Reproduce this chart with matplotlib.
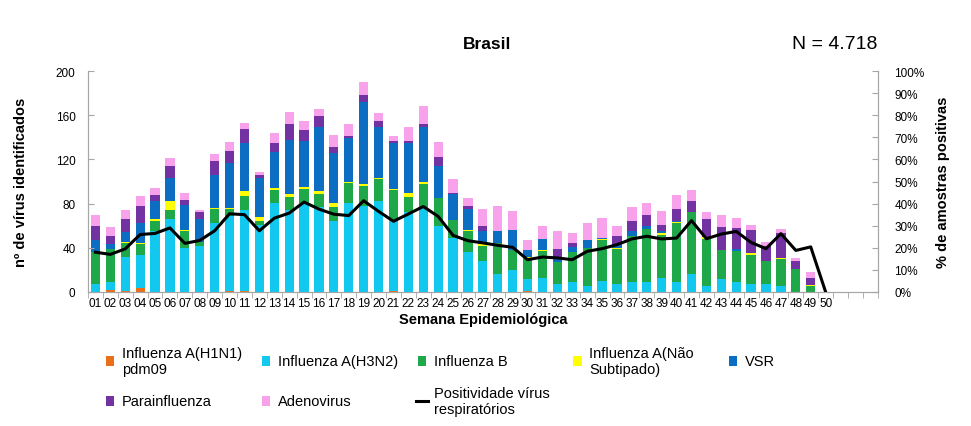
import numpy as np
import matplotlib as mpl
import matplotlib.pyplot as plt
from matplotlib.patches import Rectangle
from matplotlib.lines import Line2D

mpl.rcParams.update({
    "font.family": ["Liberation Sans", "DejaVu Sans"],
    "figure.dpi": 100,
})

weeks = ["%02d" % w for w in range(1, 51)]
n_slots = 53  # axis runs to week 53, labels stop at 50

h1n1 = [0, 2, 1, 4, 0, 0, 0, 0, 0, 1, 1, 0, 0, 0, 0, 0, 0, 0, 0, 0, 1, 0, 0, 0, 0,
        0, 0, 0, 0, 1, 0, 0, 0, 0, 0, 0, 0, 0, 0, 0, 0, 0, 0, 0, 0, 0, 0, 0, 0, 0]
h3n2 = [7, 7, 31, 29, 55, 66, 40, 42, 62, 68, 73, 61, 81, 74, 81, 77, 64, 81, 78, 82, 65, 72, 77, 60, 49,
        36, 28, 16, 20, 11, 13, 7, 9, 5, 10, 7, 9, 9, 13, 9, 16, 5, 12, 9, 7, 7, 5, 0, 0, 0]
flu_b = [29, 30, 12, 10, 9, 8, 15, 3, 13, 6, 13, 3, 11, 12, 12, 12, 13, 18, 18, 20, 26, 14, 21, 25, 16,
         19, 14, 28, 18, 19, 24, 20, 27, 35, 37, 32, 42, 48, 39, 53, 56, 43, 26, 28, 26, 21, 25, 21, 5, 0]
nao_sub = [0, 0, 1, 1, 2, 8, 1, 0, 1, 1, 4, 4, 2, 3, 2, 2, 4, 1, 2, 1, 1, 4, 2, 0, 0,
           1, 1, 0, 0, 1, 1, 0, 0, 0, 1, 1, 0, 0, 1, 1, 0, 2, 0, 0, 2, 0, 1, 0, 1, 0]
vsr = [11, 4, 9, 18, 16, 21, 23, 21, 30, 41, 44, 35, 33, 49, 42, 58, 45, 39, 74, 46, 42, 45, 49, 29, 24,
       19, 12, 11, 18, 6, 10, 5, 5, 7, 1, 3, 4, 3, 2, 1, 0, 0, 0, 2, 0, 0, 0, 0, 0, 0]
parainf = [13, 8, 12, 16, 6, 11, 4, 6, 13, 11, 13, 3, 8, 14, 10, 10, 5, 2, 6, 6, 2, 2, 3, 8, 1,
           3, 5, 0, 0, 0, 0, 7, 3, 0, 0, 8, 9, 10, 6, 11, 10, 16, 21, 19, 21, 14, 22, 7, 7, 0]
adeno = [10, 8, 8, 9, 6, 7, 7, 2, 6, 8, 5, 3, 9, 11, 8, 7, 11, 11, 12, 7, 4, 12, 16, 14, 12,
         7, 15, 23, 17, 9, 12, 16, 9, 15, 18, 9, 13, 11, 12, 13, 10, 6, 11, 9, 5, 3, 4, 3, 5, 0]
positividade = [18, 17, 19.5, 26, 26.5, 29, 22, 23.3, 27.7, 35.4, 35, 27.7, 33.4, 35.7, 40.7, 37.5, 35.2,
                34.6, 41.3, 36.5, 32, 35.3, 38.7, 34.2, 25.6, 23.2, 22.2, 21.1, 20.2, 14.6, 15.8, 15.4,
                14.6, 18.4, 19.6, 21.4, 24, 25.2, 24, 24.4, 32.3, 24.1, 26.2, 27.4, 22.4, 19.6, 26.4,
                18.8, 20.4, 0]

series = [
    ("Influenza A(H1N1)\npdm09", h1n1, "#E8701A"),
    ("Influenza A(H3N2)", h3n2, "#12C8EE"),
    ("Influenza B", flu_b, "#1FA84A"),
    ("Influenza A(Não\nSubtipado)", nao_sub, "#FFFF00"),
    ("VSR", vsr, "#0C6EC2"),
    ("Parainfluenza", parainf, "#7332A2"),
    ("Adenovirus", adeno, "#F7A2EA"),
]

fig = plt.figure(figsize=(9.71, 4.27))
ax = fig.add_axes([0.0906, 0.314, 0.8134, 0.517])
x = np.arange(len(weeks))
bottom = np.zeros(len(weeks))
for label, vals, color in series:
    ax.bar(x, vals, bottom=bottom, width=0.62, color=color, linewidth=0)
    bottom += np.array(vals)

ax.set_xlim(-0.5, n_slots - 0.5)
ax.set_ylim(0, 200)
ax.set_yticks(range(0, 201, 40))
ax.set_xticks(x)
ax.set_xticklabels(weeks, fontsize=8.5)
ax.set_xticks(np.arange(-0.5, n_slots, 1), minor=True)
ax.tick_params(axis="x", which="major", length=0, pad=4)
ax.tick_params(axis="x", which="minor", length=4, color="#A6A6A6", direction="out")
ax.tick_params(axis="y", labelsize=8.5, length=4, color="#A6A6A6", direction="in", pad=9)
ax.spines["top"].set_visible(False)
for s in ["left", "bottom", "right"]:
    ax.spines[s].set_color("#A6A6A6")
ax.set_xlabel("Semana Epidemiológica", fontsize=10.5, fontweight="bold", labelpad=2)
ax.set_ylabel("nº de vírus identificados", fontsize=10.5, fontweight="bold", labelpad=20)

ax2 = ax.twinx()
ax2.plot(x, positividade, color="black", linewidth=2.2)
ax2.set_ylim(0, 100)
ax2.set_yticks(range(0, 101, 10))
ax2.set_yticklabels(["%d%%" % v for v in range(0, 101, 10)])
ax2.tick_params(axis="y", labelsize=8.5, length=4, color="#A6A6A6", direction="in", pad=12)
ax2.spines["top"].set_visible(False)
for s in ["left", "bottom", "right"]:
    ax2.spines[s].set_color("#A6A6A6")
ax2.set_ylabel("% de amostras positivas", fontsize=10.5, fontweight="bold", labelpad=8)

fig.text(0.502, 0.895, "Brasil", ha="center", va="center", fontsize=12.5, fontweight="bold")
fig.text(0.860, 0.895, "N = 4.718", ha="center", va="center", fontsize=14)

# legend, laid out like the original (5 columns, 2 rows)
entries = [(lab, col, "box") for lab, _, col in series] + [("Positividade vírus\nrespiratórios", "black", "line")]
for i, (lab, col, kind) in enumerate(entries):
    r, c = divmod(i, 5)
    lx = 0.113 + c * 0.1605
    ly = 0.152 - r * 0.094
    if kind == "box":
        fig.add_artist(Rectangle((lx - 0.004, ly - 0.012), 0.0085, 0.024, transform=fig.transFigure,
                                 color=col, lw=0))
    else:
        fig.add_artist(Line2D([lx - 0.006, lx + 0.007], [ly, ly], transform=fig.transFigure,
                              color=col, lw=2.2))
    fig.text(lx + 0.0125, ly, lab, ha="left", va="center", fontsize=10.5, linespacing=1.2)

fig.savefig("out.png", dpi=100)
